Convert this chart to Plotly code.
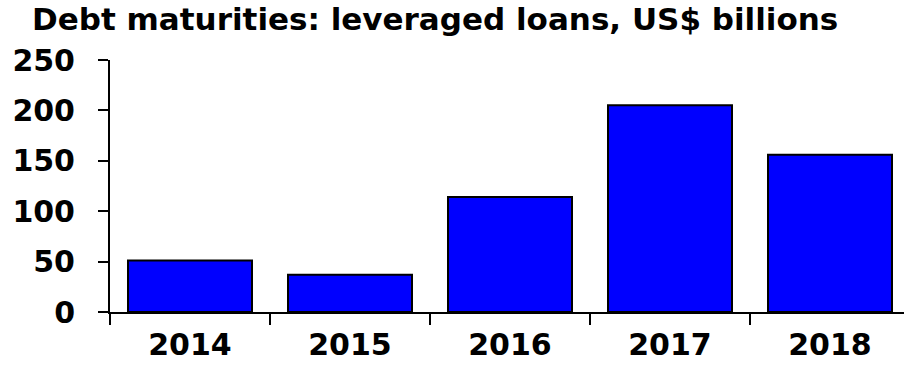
import plotly.graph_objects as go

years = ["2014", "2015", "2016", "2017", "2018"]
maturities = [51, 37, 114, 205, 156]
y_ticks = [0, 50, 100, 150, 200, 250]
title_text = "Debt maturities: leveraged loans, US$ billions"

FONT = "DejaVu Sans, Arial, sans-serif"

fig = go.Figure()
fig.add_trace(go.Bar(
    x=years, y=maturities, width=0.775,
    marker=dict(color="#0000FF", line=dict(color="black", width=2)),
))

fig.update_layout(
    width=904, height=368,
    margin=dict(l=110, r=0, t=60, b=56),
    paper_bgcolor="white", plot_bgcolor="white",
    showlegend=False,
    title=dict(text="<b>" + title_text + "</b>", x=32/904, xanchor="left",
               xref="container", yref="container", y=1-8/368, yanchor="top",
               font=dict(family=FONT, size=31, color="black")),
    font=dict(family=FONT, color="black"),
)
fig.update_xaxes(
    type="category", range=[-0.5, 4.4625], tickson="boundaries",
    showline=True, linecolor="black", linewidth=2,
    ticks="outside", ticklen=11, tickwidth=2, tickcolor="black",
    tickfont=dict(family=FONT, size=30, color="black", weight="bold"),
    ticklabelstandoff=5, showgrid=False, zeroline=False,
)
fig.update_yaxes(
    range=[0, 250], tickvals=y_ticks,
    showline=True, linecolor="black", linewidth=2,
    ticks="outside", ticklen=10, tickwidth=2, tickcolor="black",
    tickfont=dict(family=FONT, size=30, color="black", weight="bold"),
    ticklabelstandoff=17, showgrid=False, zeroline=False,
)

fig.write_html("out.html", config={"displayModeBar": False},
               post_script="document.body.style.margin='0';")
